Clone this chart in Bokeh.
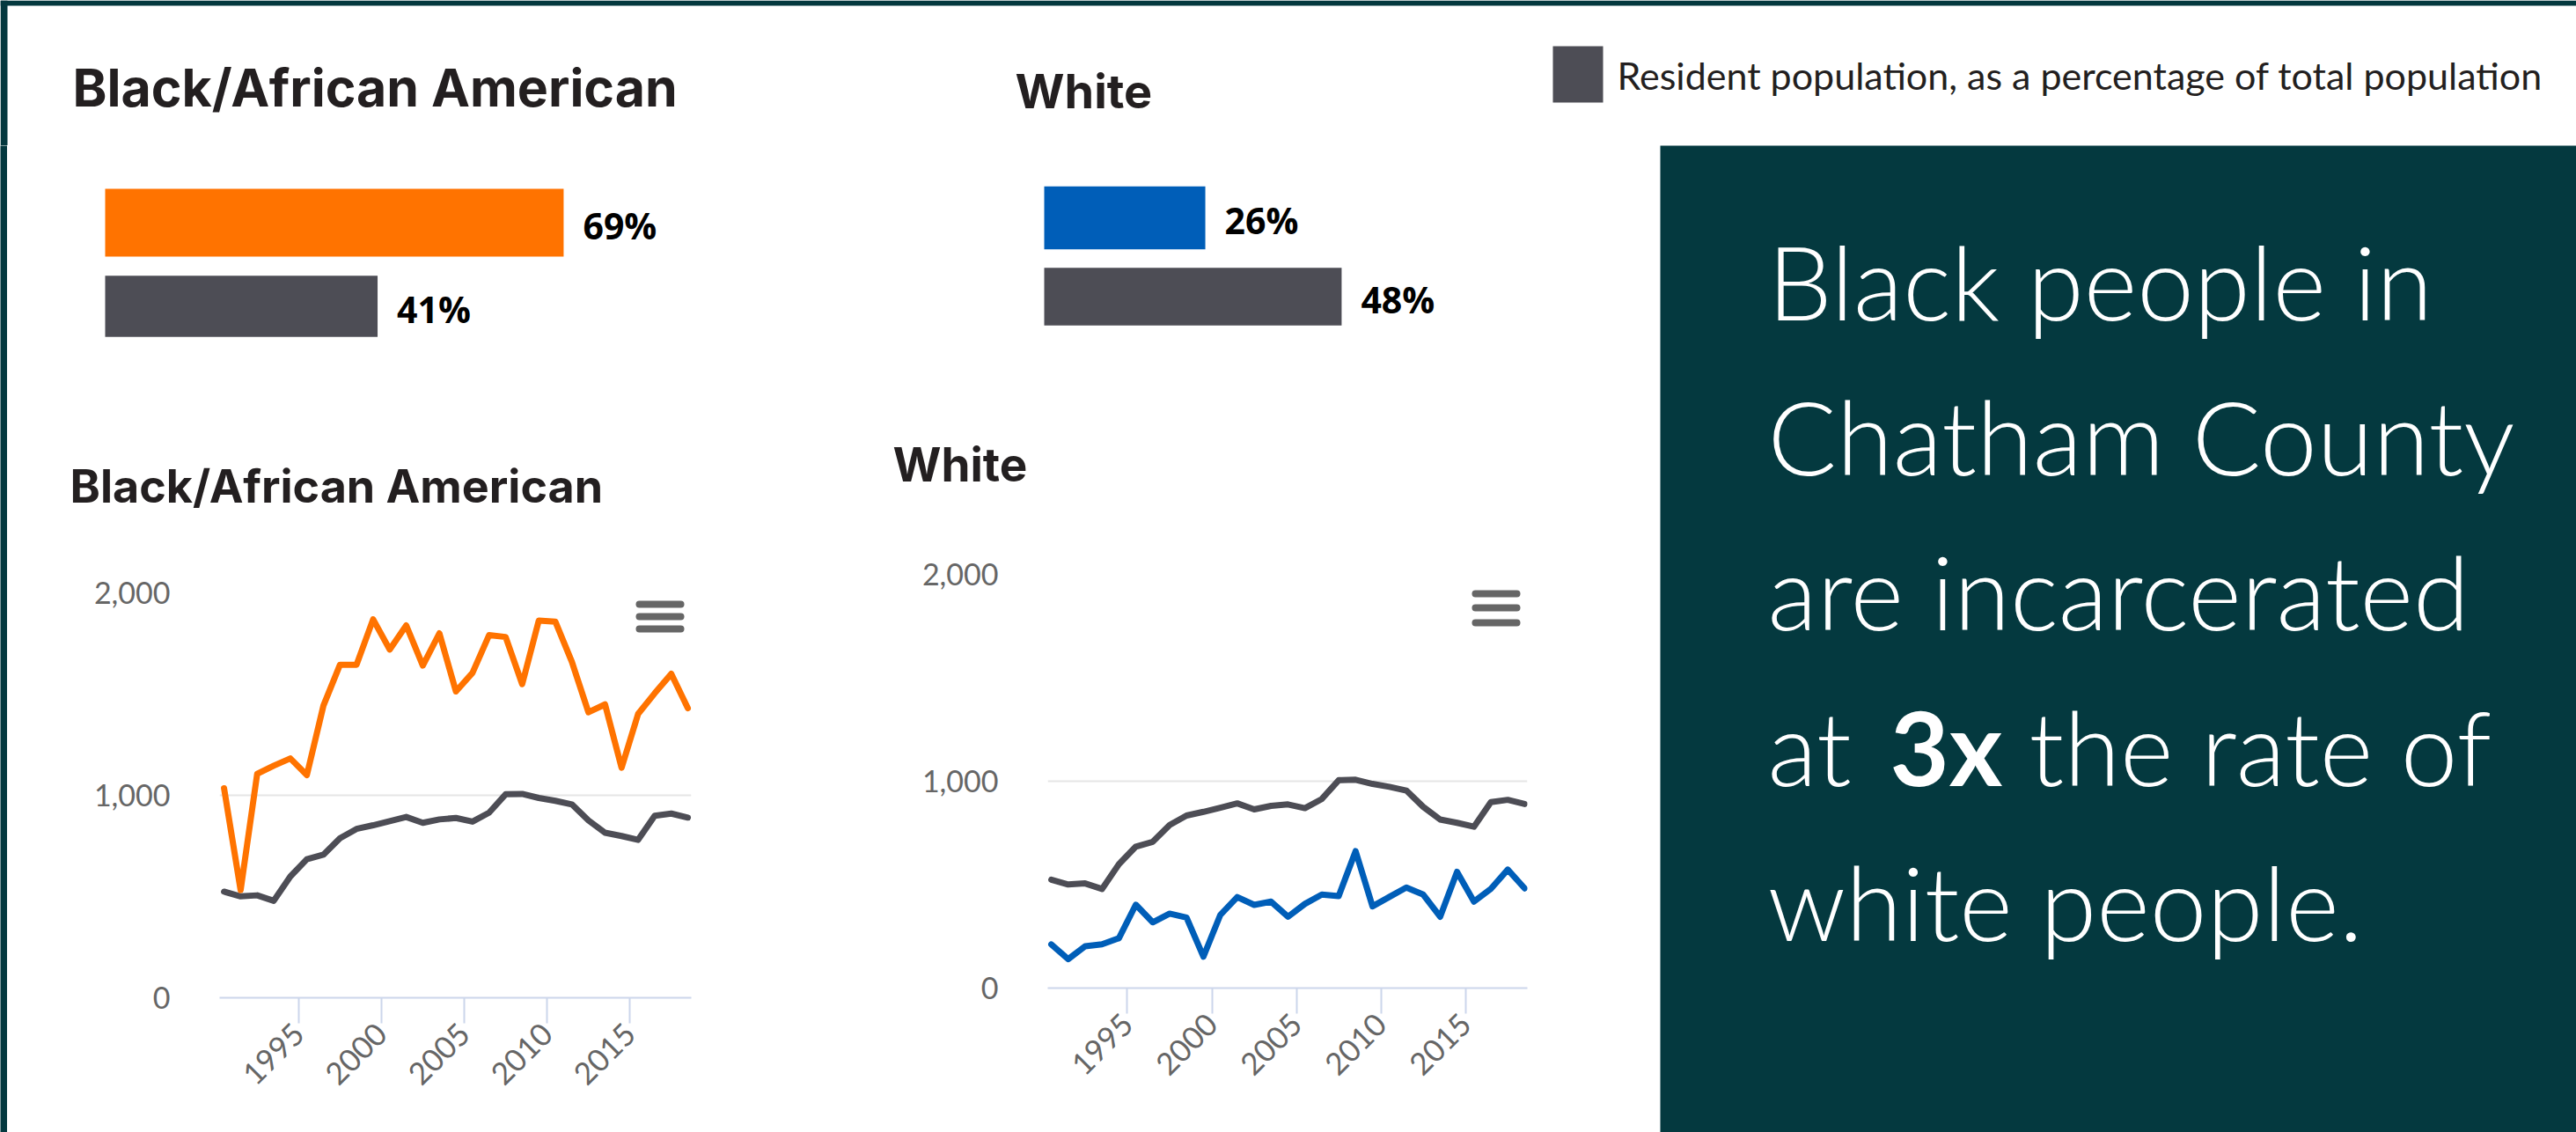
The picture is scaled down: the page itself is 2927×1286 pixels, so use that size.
from math import pi
from bokeh.plotting import figure
from bokeh.models import Range1d, ColumnDataSource, FixedTicker, NumeralTickFormatter, CustomJSTickFormatter
from bokeh.layouts import row, column
from bokeh.core.properties import value
from bokeh.embed import file_html
from bokeh.resources import INLINE

# ---------------- data ----------------
years = list(range(1990, 2019))
black_rate = [1035, 532, 1106, 1146, 1182, 1100, 1443, 1645, 1645, 1869, 1720, 1839, 1641, 1800, 1513,
              1605, 1791, 1782, 1549, 1863, 1858, 1659, 1410, 1449, 1136, 1402, 1504, 1600, 1430]
total_rate = [524, 501, 506, 479, 599, 684, 707, 788, 834, 852, 872, 893, 864, 881, 888,
              870, 914, 1005, 1007, 987, 973, 955, 876, 815, 799, 780, 899, 910, 890]
white_rate = [211, 140, 202, 212, 241, 403, 318, 360, 341, 152, 354, 440, 402, 418, 345,
              407, 452, 445, 662, 395, 441, 486, 452, 345, 562, 418, 480, 573, 482]

bar_rows = ["Incarcerated", "Resident population"]
black_pct = [69, 41]
white_pct = [26, 48]

x_tick_years = [1995, 2000, 2005, 2010, 2015]
y_ticks = [0, 1000, 2000]

title_black = "Black/African American"
title_white = "White"
legend_text = "Resident population, as a percentage of total population"
panel_lines = ["Black people in", "Chatham County", "are incarcerated", "white people."]

# ---------------- style ----------------
DARK = "#04393F"
ORANGE = "#FF7300"
GRAY = "#4D4D55"
BLUE = "#005EB8"
INK = "#231F20"
TITLE_FONT = value("Inter")
BODY_FONT = value("Lato")
PANEL_FONT = value("Lato Light, Lato")
K_INTER, K_LATO = 0.364, 0.395   # em-box middle above the baseline


def canvas(w, h, x0, x1, y0, y1, bg="#FFFFFF"):
    p = figure(width=w, height=h, x_range=Range1d(x0, x1), y_range=Range1d(y1, y0),
               output_backend="svg", toolbar_location=None, min_border=0,
               x_axis_location=None, y_axis_location=None,
               background_fill_color=bg, border_fill_color=bg, outline_line_color=None)
    p.grid.visible = False
    return p


def put_text(p, x, base, txt, font, size, color, k, bold=False):
    p.text(x=[x], y=[base - k * size], text=[txt], text_font=font,
           text_font_style="bold" if bold else "normal", text_font_size=f"{size}px",
           text_color=color, text_baseline="middle", text_align="left")


# ---------------- top strip: titles + legend ----------------
top = canvas(2927, 165, 0, 2927, 0, 165)
top.quad(left=0, right=2927, top=0, bottom=6, color=DARK, line_color=None)
top.quad(left=0, right=8, top=0, bottom=165, color=DARK, line_color=None)
put_text(top, 82, 120, title_black, TITLE_FONT, 59, INK, K_INTER, bold=True)
put_text(top, 1153, 123, title_white, TITLE_FONT, 54, INK, K_INTER, bold=True)
top.quad(left=1764, right=1821, top=52, bottom=116, color=GRAY, line_color=None)
put_text(top, 1837, 102, legend_text, BODY_FONT, 43, INK, K_LATO)

# ---------------- left band ----------------
band = canvas(8, 1121, 0, 8, 165, 1286, bg=DARK)


# ---------------- bar charts ----------------
def bar_chart(w, xr, yr, pcts, colors, heights):
    p = figure(width=w, height=255, x_range=Range1d(*xr), y_range=Range1d(*yr),
               output_backend="svg", toolbar_location=None, min_border=0,
               x_axis_location=None, y_axis_location=None, outline_line_color=None)
    p.grid.visible = False
    src = ColumnDataSource(dict(y=list(range(len(pcts))), v=pcts, c=colors, h=heights,
                                lab=[f"{v}%" for v in pcts], cat=bar_rows))
    p.hbar(y="y", left=0, right="v", height="h", fill_color="c", line_color=None, source=src)
    p.text(x="v", y="y", text="lab", source=src, x_offset=22, y_offset=3,
           text_font=value("Open Sans"), text_font_style="bold", text_font_size="41px",
           text_color="#000000", text_baseline="middle")
    return p


barL = bar_chart(992, (-14.70, 116.69), (1.763, -0.921), black_pct, [ORANGE, GRAY], [0.81, 0.73])
barR = bar_chart(886, (-26.42, 99.43), (1.933, -0.916), white_pct, [BLUE, GRAY], [0.80, 0.73])

# ---------------- line-chart titles ----------------
titles = canvas(1878, 180, 8, 1886, 420, 600)
put_text(titles, 79, 571, title_black, TITLE_FONT, 52, INK, K_INTER, bold=True)
put_text(titles, 1014, 547, title_white, TITLE_FONT, 53, INK, K_INTER, bold=True)


# ---------------- line charts ----------------
ROW_TOP, ROW_H = 600, 686


def line_chart(w, bl, br, xr, frame_top, frame_bottom, series, icon_offsets):
    p = figure(width=w, height=ROW_H, x_range=Range1d(*xr), y_range=Range1d(0, 2000),
               output_backend="svg", toolbar_location=None,
               min_border_left=bl, min_border_right=br,
               min_border_top=frame_top - ROW_TOP, min_border_bottom=ROW_TOP + ROW_H - frame_bottom,
               outline_line_color=None)
    fw = w - bl - br
    ppu = (frame_bottom - frame_top) / 2000.0
    p.xgrid.visible = False
    p.ygrid.ticker = FixedTicker(ticks=y_ticks)
    p.ygrid.grid_line_color = "#E6E6E6"
    p.ygrid.grid_line_width = 2

    ya = p.yaxis[0]
    ya.ticker = FixedTicker(ticks=y_ticks)
    ya.formatter = NumeralTickFormatter(format="0,0")
    ya.axis_line_color = None
    ya.major_tick_line_color = None
    ya.minor_tick_line_color = None
    ya.major_label_standoff = 50
    ya.major_label_text_font = "Lato"
    ya.major_label_text_font_size = "34px"
    ya.major_label_text_color = "#666666"

    xa = p.xaxis[0]
    xa.ticker = FixedTicker(ticks=[y - 0.5 for y in x_tick_years])
    xa.formatter = CustomJSTickFormatter(code="return String(Math.round(tick + 0.5));")
    xa.axis_line_color = "#CCD6EB"
    xa.axis_line_width = 2
    xa.major_tick_line_color = "#CCD6EB"
    xa.major_tick_line_width = 2
    xa.major_tick_out = 29
    xa.major_tick_in = 0
    xa.minor_tick_line_color = None
    xa.major_label_orientation = pi / 4
    xa.major_label_standoff = 6
    xa.major_label_text_font = "Lato"
    xa.major_label_text_font_size = "35px"
    xa.major_label_text_color = "#666666"

    for vals, col in series:
        p.line(years, vals, line_color=col, line_width=7, line_join="round", line_cap="round")

    # context-menu icon (three rounded bars) near the top-right of the plot area
    dx = (xr[1] - xr[0]) / fw
    x1 = xr[1] - 12 * dx
    x0 = xr[1] - 59 * dx
    ys = [2000 - o / ppu for o in icon_offsets]
    p.segment(x0=[x0] * 3, x1=[x1] * 3, y0=ys, y1=ys, line_color="#666666", line_width=8,
              line_cap="round")
    return p


lineL = line_chart(992, 241, 215, (1989.73, 2018.21), 673, 1133,
                   [(total_rate, GRAY), (black_rate, ORANGE)], [13, 27, 41])
lineR = line_chart(886, 190, 151, (1989.79, 2018.16), 652, 1122,
                   [(total_rate, GRAY), (white_rate, BLUE)], [22, 38, 55])

# ---------------- right panel ----------------
panel = canvas(1041, 1121, 1886, 2927, 165, 1286, bg=DARK)
PS = 116
panel_x = 2008
for txt, base in zip(panel_lines, [365, 541, 717, 1070]):
    put_text(panel, panel_x, base, txt, PANEL_FONT, PS, "#FFFFFF", K_LATO)
put_text(panel, panel_x, 894, "at", PANEL_FONT, PS, "#FFFFFF", K_LATO)
put_text(panel, 2147, 894, "3x", BODY_FONT, PS, "#FFFFFF", K_LATO, bold=True)
put_text(panel, 2305, 894, "the rate of", PANEL_FONT, PS, "#FFFFFF", K_LATO)

left_area = column(row(barL, barR), titles, row(column(lineL), column(lineR)))
root = column(top, row(band, left_area, panel))

open("out.html", "w").write(file_html(root, INLINE))
